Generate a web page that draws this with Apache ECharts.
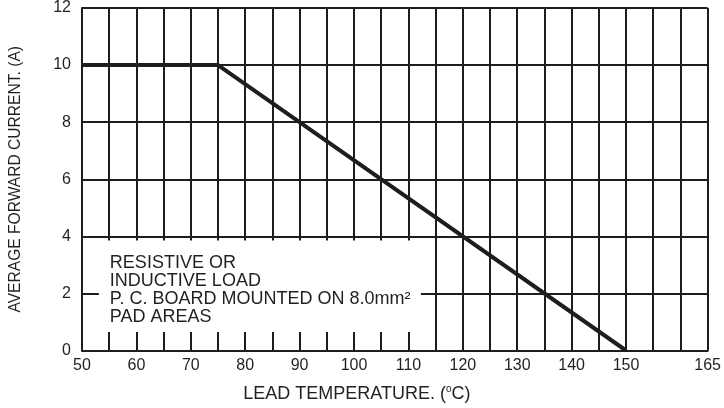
<!DOCTYPE html>
<html><head><meta charset="utf-8">
<script src="https://cdn.jsdelivr.net/npm/echarts/dist/echarts.min.js"></script>
<style>html,body{margin:0;padding:0;background:#fff}#c{width:724px;height:408px}</style>
</head><body><div id="c"></div>
<script>
// Derating curve data
const temperature = [50, 75, 150];
const current = [10, 10, 0];
// Tick labels shown on the axes
const xTickLabels = [50, 60, 70, 80, 90, 100, 110, 120, 130, 140, 150, 165];
const yTickLabels = [0, 2, 4, 6, 8, 10, 12];
// Annotation text
const noteLines = ['RESISTIVE OR', 'INDUCTIVE LOAD', 'P. C. BOARD MOUNTED ON 8.0mm\u00B2', 'PAD AREAS'];
// Annotation box extent in data units
const noteBoxX = [53.1, 112.3];
const noteBoxY = [0.65, 3.85];

const FONT = "'Liberation Sans', Arial, sans-serif";
const INK = '#231f20';
const LINE = '#1e1e1e';

const chart = echarts.init(document.getElementById('c'), null, {renderer: 'canvas'});
chart.setOption({
  animation: false,
  backgroundColor: '#fff',
  grid: {left: 82, right: 15, top: 7, bottom: 54, containLabel: false},
  xAxis: {
    type: 'value', min: 50, max: 165, interval: 5,
    name: '{a|LEAD TEMPERATURE. (}{s|o}{a|C)}',
    nameLocation: 'middle', nameGap: 34,
    nameTextStyle: {
      padding: [0, 76, 0, 0],
      rich: {
        a: {fontFamily: FONT, fontSize: 18, color: INK},
        s: {fontFamily: FONT, fontSize: 10, color: INK, padding: [0, 0, 9, 0]}
      }
    },
    axisLine: {show: true, lineStyle: {color: LINE, width: 2}},
    axisTick: {show: false},
    axisLabel: {
      fontFamily: FONT, fontSize: 16, color: INK, margin: 7,
      formatter: v => xTickLabels.indexOf(v) >= 0 ? String(v) : ''
    },
    splitLine: {show: true, lineStyle: {color: LINE, width: 2}}
  },
  yAxis: {
    type: 'value', min: 0, max: 12, interval: 2,
    name: 'AVERAGE FORWARD CURRENT. (A)',
    nameLocation: 'middle', nameGap: 58, nameRotate: 90,
    nameTextStyle: {fontFamily: FONT, fontSize: 15.6, color: INK},
    axisLine: {show: true, lineStyle: {color: LINE, width: 2}},
    axisTick: {show: false},
    axisLabel: {
      fontFamily: FONT, fontSize: 16, color: INK, margin: 11,
      formatter: v => yTickLabels.indexOf(v) >= 0 ? String(v) : ''
    },
    splitLine: {show: true, lineStyle: {color: LINE, width: 2}}
  },
  series: [{
    type: 'line',
    data: temperature.map((t, i) => [t, current[i]]),
    showSymbol: false,
    lineStyle: {color: LINE, width: 4},
    z: 3
  }]
});

const p1 = chart.convertToPixel({gridIndex: 0}, [noteBoxX[0], noteBoxY[1]]);
const p2 = chart.convertToPixel({gridIndex: 0}, [noteBoxX[1], noteBoxY[0]]);
chart.setOption({
  graphic: [
    {type: 'rect', z: 10, shape: {x: p1[0], y: p1[1], width: p2[0] - p1[0], height: p2[1] - p1[1]},
     style: {fill: '#fff'}},
    {type: 'text', z: 11, x: p1[0] + 11, y: p1[1] + 13,
     style: {text: noteLines.join('\n'), font: '18px ' + FONT, fill: INK, lineHeight: 18}}
  ]
});
</script>
</body></html>
